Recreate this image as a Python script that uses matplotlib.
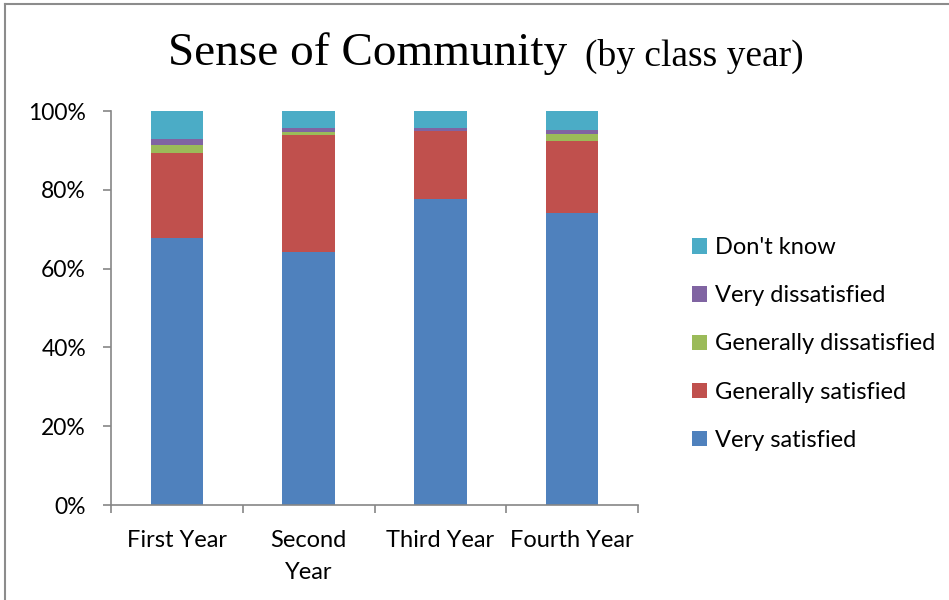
import matplotlib.pyplot as plt
from matplotlib.patches import Patch
from matplotlib.lines import Line2D
import numpy as np

plt.rcParams['font.family'] = ['Lato', 'DejaVu Sans']

# data (percent of respondents)
years = ["First Year", "Second\nYear", "Third Year", "Fourth Year"]
very_satisfied = [67.8, 64.1, 77.7, 74.0]
gen_satisfied = [21.6, 29.8, 17.1, 18.5]
gen_dissatisfied = [2.0, 0.8, 0.0, 1.6]
very_dissatisfied = [1.5, 1.0, 1.0, 1.1]
dont_know = [7.1, 4.3, 4.2, 4.7]

labels = ["Very satisfied", "Generally satisfied", "Generally dissatisfied",
          "Very dissatisfied", "Don't know"]
colors = ["#4F81BD", "#C0504D", "#9BBB59", "#8064A2", "#4BACC6"]

fig = plt.figure(figsize=(9.49, 6), dpi=100)
ax = fig.add_axes([111/949, 95/600, 527/949, 394/600])

x = np.arange(len(years))
bottom = np.zeros(len(years))
series = [very_satisfied, gen_satisfied, gen_dissatisfied, very_dissatisfied, dont_know]
for vals, col in zip(series, colors):
    ax.bar(x, vals, 0.4, bottom=bottom, color=col, edgecolor='none')
    bottom += np.array(vals)

ax.set_xlim(-0.5, 3.5)
ax.set_ylim(0, 100)
ax.set_yticks(np.arange(0, 101, 20))
ax.set_yticklabels([f"{v}%" for v in range(0, 101, 20)], fontsize=16.5)
ax.set_xticks(x)
ax.set_xticklabels(years, fontsize=17, linespacing=1.62)
ax.set_xticks(np.arange(-0.5, 3.6, 1), minor=True)
ax.tick_params(axis='x', which='major', length=0, pad=18)
ax.tick_params(axis='x', which='minor', length=6, width=1.2, color='#868686')
ax.tick_params(axis='y', length=6, width=1.2, color='#868686', pad=12)
for s in ['top', 'right']:
    ax.spines[s].set_visible(False)
for s in ['left', 'bottom']:
    ax.spines[s].set_color('#868686')
    ax.spines[s].set_linewidth(1.2)

handles = [Patch(facecolor=c, edgecolor='none') for c in colors]
leg = fig.legend(handles[::-1], labels[::-1], loc='center left',
                 bbox_to_anchor=(671/949, 1 - 344/600), frameon=False,
                 fontsize=17, handlelength=0.62, handleheight=0.62,
                 handletextpad=0.34, labelspacing=1.15)

fig.text(0.5975, 0.911, "Sense of Community", family='Liberation Serif',
         fontsize=34, ha='right', va='center')
fig.text(0.616, 0.906, "(by class year)", family='Liberation Serif',
         fontsize=27, ha='left', va='center')

# outer frame
fig.add_artist(Line2D([5/949, 5/949], [0, 1 - 4/600], color='#8c8c8c', lw=1.5))
fig.add_artist(Line2D([5/949, 1], [1 - 4/600, 1 - 4/600], color='#8c8c8c', lw=1.5))

fig.savefig("out.png", dpi=100)
